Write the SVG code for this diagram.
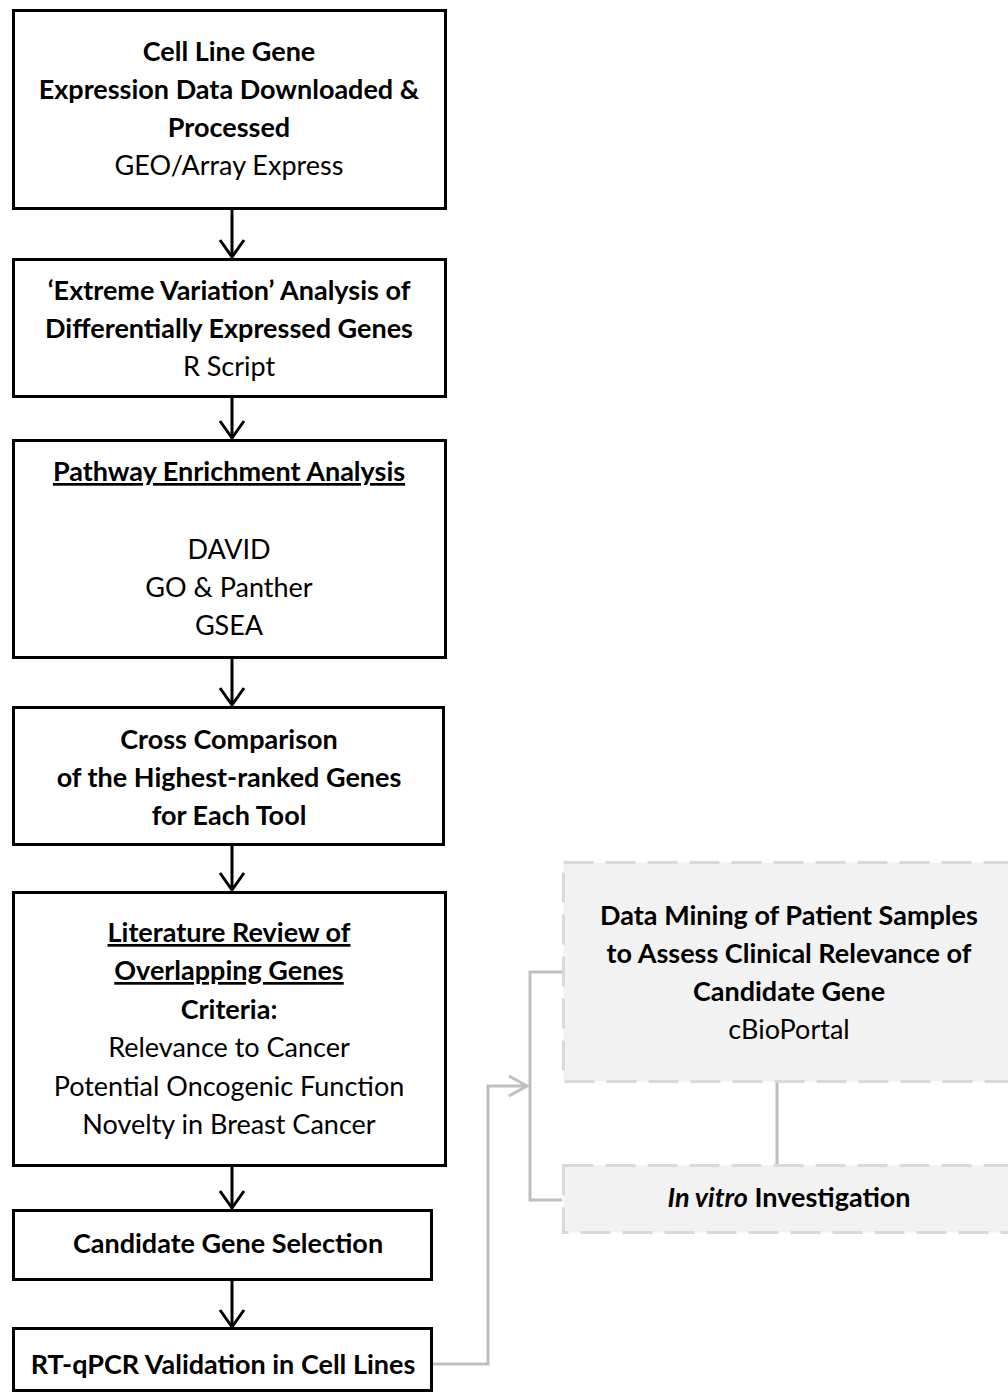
<svg xmlns="http://www.w3.org/2000/svg" width="1008" height="1394" viewBox="0 0 1008 1394">
<style>
.box{fill:#fff;stroke:#000;stroke-width:3}
.gbox{fill:#f2f2f2;stroke:#d9d9d9;stroke-width:3;stroke-dasharray:30 12}
text{font-family:Lato,"Liberation Sans",sans-serif;font-size:27px;fill:#000;text-anchor:middle}
.b{font-weight:bold}
.u{text-decoration:underline}
.blk{fill:none;stroke:#000;stroke-width:3}
.gry{fill:none;stroke:#bfbfbf;stroke-width:3}
</style>
<defs>
<marker id="ah" markerUnits="userSpaceOnUse" markerWidth="40" markerHeight="40" viewBox="-20 -20 40 40" refX="0" refY="0" orient="auto" overflow="visible">
<path d="M-17,-12 L0,0 L-17,12" fill="none" stroke="#000" stroke-width="3"/>
</marker>
<marker id="ahg" markerUnits="userSpaceOnUse" markerWidth="40" markerHeight="40" viewBox="-20 -20 40 40" refX="0" refY="0" orient="auto" overflow="visible">
<path d="M-18,-10 L0,0 L-18,10" fill="none" stroke="#bfbfbf" stroke-width="3"/>
</marker>
</defs>
<g id="connectors">
<line class="blk" x1="232" y1="210" x2="232" y2="257" marker-end="url(#ah)"/>
<line class="blk" x1="232" y1="397" x2="232" y2="438" marker-end="url(#ah)"/>
<line class="blk" x1="232" y1="658" x2="232" y2="705" marker-end="url(#ah)"/>
<line class="blk" x1="232" y1="845" x2="232" y2="890" marker-end="url(#ah)"/>
<line class="blk" x1="232" y1="1166" x2="232" y2="1208" marker-end="url(#ah)"/>
<line class="blk" x1="232" y1="1281" x2="232" y2="1327" marker-end="url(#ah)"/>
<polyline class="gry" points="433,1364 488,1364 488,1086 527,1086" marker-end="url(#ahg)"/>
<polyline class="gry" points="562,972 530,972 530,1200 562,1200"/>
<line class="gry" x1="777" y1="1082" x2="777" y2="1165"/>
</g>
<g id="n1">
<rect class="box" x="13.5" y="10.5" width="432" height="198"/>
<text class="b" x="229" y="61">Cell Line Gene</text>
<text class="b" x="229" y="99">Expression Data Downloaded &amp;</text>
<text class="b" x="229" y="137">Processed</text>
<text x="229" y="175">GEO/Array Express</text>
</g>
<g id="n2">
<rect class="box" x="13.5" y="259.5" width="432" height="137"/>
<text class="b" x="229" y="300">‘Extreme Variation’ Analysis of</text>
<text class="b" x="229" y="338">Differentially Expressed Genes</text>
<text x="229" y="376">R Script</text>
</g>
<g id="n3">
<rect class="box" x="13.5" y="440.5" width="432" height="217"/>
<text class="b u" x="229" y="481">Pathway Enrichment Analysis</text>
<text x="229" y="559">DAVID</text>
<text x="229" y="597">GO &amp; Panther</text>
<text x="229" y="635">GSEA</text>
</g>
<g id="n4">
<rect class="box" x="13.5" y="707.5" width="430" height="137"/>
<text class="b" x="229" y="749">Cross Comparison</text>
<text class="b" x="229" y="787">of the Highest-ranked Genes</text>
<text class="b" x="229" y="825">for Each Tool</text>
</g>
<g id="n5">
<rect class="box" x="13.5" y="892.5" width="432" height="273"/>
<text class="b u" x="229" y="942">Literature Review of</text>
<text class="b u" x="229" y="980">Overlapping Genes</text>
<text class="b" x="229" y="1019">Criteria:</text>
<text x="229" y="1057">Relevance to Cancer</text>
<text x="229" y="1096">Potential Oncogenic Function</text>
<text x="229" y="1134">Novelty in Breast Cancer</text>
</g>
<g id="n6">
<rect class="box" x="13.5" y="1210.5" width="418" height="69"/>
<text class="b" x="228" y="1253">Candidate Gene Selection</text>
</g>
<g id="n7">
<rect class="box" x="13.5" y="1328.5" width="418" height="62"/>
<text class="b" x="223" y="1374">RT-qPCR Validation in Cell Lines</text>
</g>
<g id="n8">
<rect class="gbox" x="563.5" y="862.5" width="452" height="219"/>
<text class="b" x="789" y="925">Data Mining of Patient Samples</text>
<text class="b" x="789" y="963">to Assess Clinical Relevance of</text>
<text class="b" x="789" y="1001">Candidate Gene</text>
<text x="789" y="1039">cBioPortal</text>
</g>
<g id="n9">
<rect class="gbox" x="563.5" y="1165.5" width="452" height="67"/>
<text class="b" x="789" y="1207"><tspan font-style="italic">In vitro</tspan> Investigation</text>
</g>
</svg>
